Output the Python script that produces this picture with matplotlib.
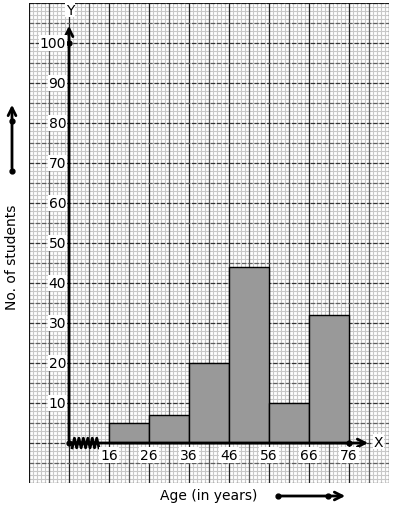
import numpy as np
import matplotlib
matplotlib.use('Agg')
import matplotlib.pyplot as plt

# class boundaries (age in years) and number of students per class
age_edges = [16, 26, 36, 46, 56, 66, 76]
students = [5, 7, 20, 44, 10, 32]
y_ticks = [10, 20, 30, 40, 50, 60, 70, 80, 90, 100]
x_origin = 6  # where the broken x axis starts

fig = plt.figure(figsize=(3.94, 5.10), dpi=100)
fig.patch.set_facecolor('white')
ax = fig.add_axes([29/394, 26/510, 360/394, 480/510])
xmin, xmax = -4, 86
ymin, ymax = -10, 110
ax.set_xlim(xmin, xmax)
ax.set_ylim(ymin, ymax)
for s in ax.spines.values():
    s.set_visible(False)
ax.set_xticks([])
ax.set_yticks([])

# graph paper: minor lines
for x in np.arange(xmin, xmax + 0.1, 1):
    ax.axvline(x, color='#c8c8c8', lw=0.8, zorder=0)
for y in np.arange(ymin, ymax + 0.1, 1):
    ax.axhline(y, color='#c8c8c8', lw=0.8, zorder=0)
# major lines
for i, x in enumerate(np.arange(xmin, xmax + 0.1, 5)):
    c = '#222222' if i % 2 == 0 else '#5a5a5a'
    ax.axvline(x, color=c, lw=0.9, zorder=1)
for i, y in enumerate(np.arange(ymin, ymax + 0.1, 5)):
    c = '#333333' if i % 2 == 0 else '#606060'
    ax.axhline(y, color=c, lw=0.9, ls=(0, (3.5, 1.5)), zorder=1)
ax.axhline(ymax, color='#111111', lw=1.2, zorder=1)
ax.axvline(xmin, color='#111111', lw=1.2, zorder=1)

# histogram bars
lefts = age_edges[:-1]
widths = np.diff(age_edges)
ax.bar(lefts, students, width=widths, align='edge', color='#999999',
       edgecolor='black', lw=1.0, zorder=3)

# axes with arrows
ax.annotate('', xy=(x_origin, 105), xytext=(x_origin, 0),
            arrowprops=dict(arrowstyle='->', lw=2, color='black',
                            mutation_scale=14), zorder=5)
ax.annotate('', xy=(81.5, 0), xytext=(x_origin, 0),
            arrowprops=dict(arrowstyle='->', lw=2, color='black',
                            mutation_scale=14), zorder=5)
ax.plot([x_origin, x_origin, age_edges[-1]], [0, 100, 0], 'ko',
        markersize=3.5, zorder=6)

# zigzag break on the x axis
zx = np.linspace(x_origin + 0.8, 13.5, 13)
zy = np.where(np.arange(len(zx)) % 2 == 0, -1.2, 1.2)
ax.plot(zx, zy, color='black', lw=2, zorder=6)

ax.text(x_origin + 0.3, 108.3, 'Y', fontsize=10, ha='center', va='center',
        bbox=dict(facecolor='white', edgecolor='none', pad=0.5), zorder=7)
ax.text(83.3, 0.3, 'X', fontsize=10, ha='center', va='center',
        bbox=dict(facecolor='white', edgecolor='none', pad=0.5), zorder=7)

for v in y_ticks:
    ax.text(x_origin - 0.7, v, str(v), fontsize=10, ha='right', va='center',
            bbox=dict(facecolor='white', edgecolor='none', pad=0.5), zorder=7)
for a in age_edges:
    ax.text(a, -3, str(a), fontsize=10, ha='center', va='center',
            bbox=dict(facecolor='white', edgecolor='none', pad=0.5), zorder=7)

# outer labels
fig.text(12/394, 1 - 257/510, 'No. of students', rotation=90, fontsize=10,
         ha='center', va='center')
fig.text(209/394, 1 - 496/510, 'Age (in years)', fontsize=10,
         ha='center', va='center')

# little direction arrows beside the labels
ax.annotate('', xy=(12, 510 - 103), xytext=(12, 510 - 172),
            xycoords='figure pixels', textcoords='figure pixels',
            arrowprops=dict(arrowstyle='->', lw=2, color='black',
                            mutation_scale=14))
fig.add_artist(plt.Line2D([12/394, 12/394], [1 - 172/510, 1 - 122/510],
                          marker='o', ls='none', color='black', markersize=3.5))
ax.annotate('', xy=(348, 510 - 497), xytext=(278, 510 - 497),
            xycoords='figure pixels', textcoords='figure pixels',
            arrowprops=dict(arrowstyle='->', lw=2, color='black',
                            mutation_scale=14))
fig.add_artist(plt.Line2D([278/394, 328/394], [1 - 497/510, 1 - 497/510],
                          marker='o', ls='none', color='black', markersize=3.5))

fig.savefig('out.png', dpi=100)
